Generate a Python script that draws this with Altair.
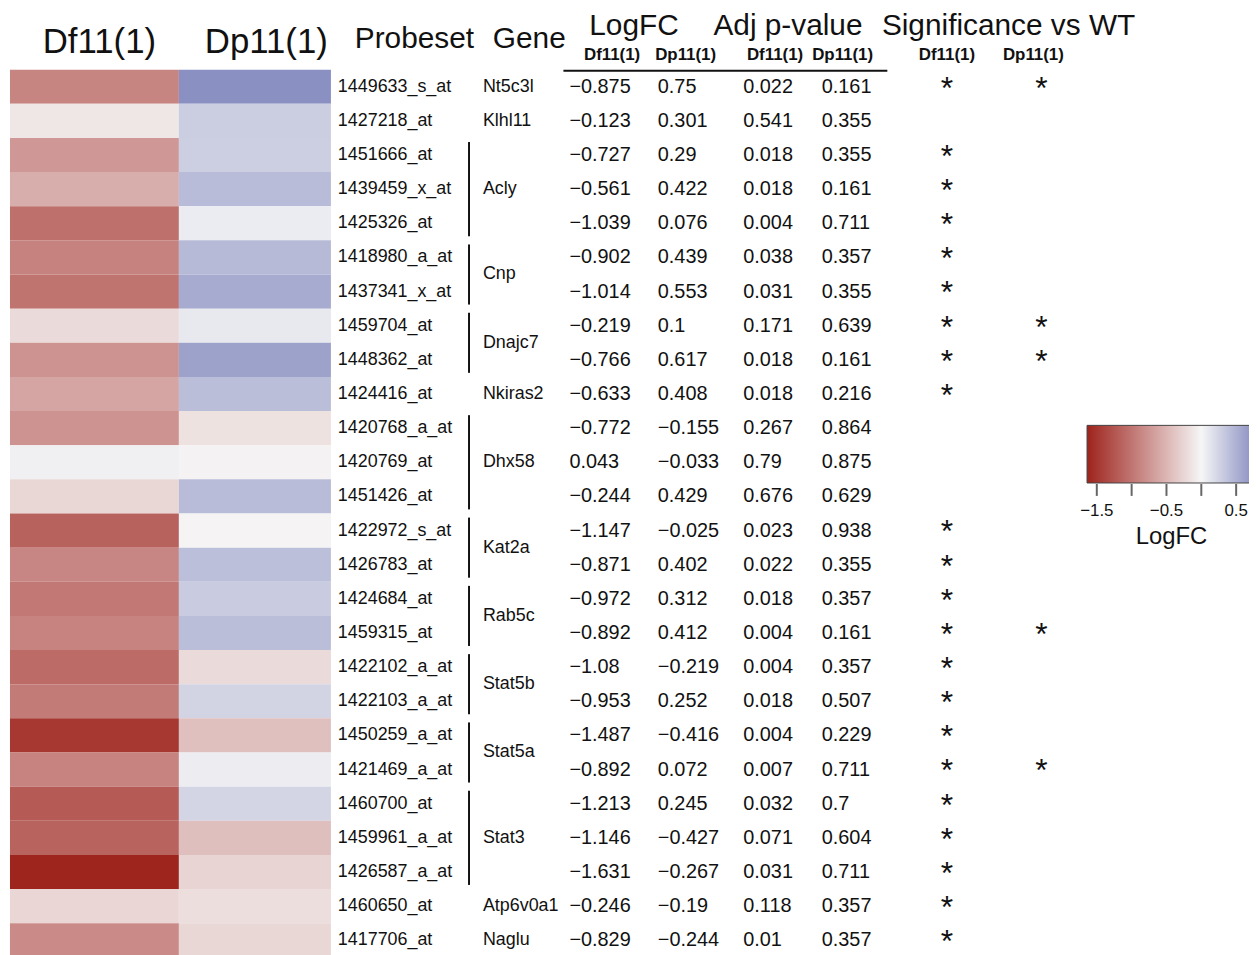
import altair as alt
import pandas as pd

probesets = ["1449633_s_at", "1427218_at", "1451666_at", "1439459_x_at", "1425326_at",
             "1418980_a_at", "1437341_x_at", "1459704_at", "1448362_at", "1424416_at",
             "1420768_a_at", "1420769_at", "1451426_at", "1422972_s_at", "1426783_at",
             "1424684_at", "1459315_at", "1422102_a_at", "1422103_a_at", "1450259_a_at",
             "1421469_a_at", "1460700_at", "1459961_a_at", "1426587_a_at", "1460650_at",
             "1417706_at"]
genes = ["Nt5c3l", "Klhl11", "Acly", "Acly", "Acly", "Cnp", "Cnp", "Dnajc7", "Dnajc7",
         "Nkiras2", "Dhx58", "Dhx58", "Dhx58", "Kat2a", "Kat2a", "Rab5c", "Rab5c",
         "Stat5b", "Stat5b", "Stat5a", "Stat5a", "Stat3", "Stat3", "Stat3", "Atp6v0a1", "Naglu"]
logfc_df11 = [-0.875, -0.123, -0.727, -0.561, -1.039, -0.902, -1.014, -0.219, -0.766, -0.633,
              -0.772, 0.043, -0.244, -1.147, -0.871, -0.972, -0.892, -1.08, -0.953, -1.487,
              -0.892, -1.213, -1.146, -1.631, -0.246, -0.829]
logfc_dp11 = [0.75, 0.301, 0.29, 0.422, 0.076, 0.439, 0.553, 0.1, 0.617, 0.408,
              -0.155, -0.033, 0.429, -0.025, 0.402, 0.312, 0.412, -0.219, 0.252, -0.416,
              0.072, 0.245, -0.427, -0.267, -0.19, -0.244]
adjp_df11 = [0.022, 0.541, 0.018, 0.018, 0.004, 0.038, 0.031, 0.171, 0.018, 0.018,
             0.267, 0.79, 0.676, 0.023, 0.022, 0.018, 0.004, 0.004, 0.018, 0.004,
             0.007, 0.032, 0.071, 0.031, 0.118, 0.01]
adjp_dp11 = [0.161, 0.355, 0.355, 0.161, 0.711, 0.357, 0.355, 0.639, 0.161, 0.216,
             0.864, 0.875, 0.629, 0.938, 0.355, 0.357, 0.161, 0.357, 0.507, 0.229,
             0.711, 0.7, 0.604, 0.711, 0.357, 0.357]
sig_df11 = [1, 0, 1, 1, 1, 1, 1, 1, 1, 1, 0, 0, 0, 1, 1, 1, 1, 1, 1, 1, 1, 1, 1, 1, 1, 1]
sig_dp11 = [1, 0, 0, 0, 0, 0, 0, 1, 1, 0, 0, 0, 0, 0, 0, 0, 1, 0, 0, 0, 1, 0, 0, 0, 0, 0]
conditions = ["Df11(1)", "Dp11(1)"]
legend_labels = [-1.5, -0.5, 0.5]
legend_ticks = [-1.5, -1.0, -0.5, 0.0, 0.5]
color_domain = [-1.64, 0, 0.77]


def fmt(v):
    return str(v).replace("-", "\u2212")


rows = pd.DataFrame({
    "idx": list(range(len(probesets))),
    "probeset": probesets,
    "gene": genes,
    "lf_df": [fmt(v) for v in logfc_df11],
    "lf_dp": [fmt(v) for v in logfc_dp11],
    "p_df": [fmt(v) for v in adjp_df11],
    "p_dp": [fmt(v) for v in adjp_dp11],
    "s_df": sig_df11,
    "s_dp": sig_dp11,
})

heat = pd.DataFrame({
    "idx": list(range(len(probesets))) * 2,
    "col": [0] * len(probesets) + [1] * len(probesets),
    "cond": [conditions[0]] * len(probesets) + [conditions[1]] * len(probesets),
    "logfc": logfc_df11 + logfc_dp11,
})

FONT = "Liberation Sans"
yscale = alt.Scale(domain=[-0.5, 25.5], range=[59, 952.4], nice=False, zero=False)
xscale = alt.Scale(domain=[0, 1, 2], range=[2, 172, 325], nice=False, zero=False)

LEG_X, LEG_LEN = 1086, 169

color_scale = alt.Scale(domain=color_domain,
                        range=["#9e231d", "#f6f6f6", "#878dc0"], interpolate="rgb")

heatmap = alt.Chart(heat).transform_calculate(
    y0="datum.idx - 0.5", y1="datum.idx + 0.5", x1="datum.col + 1"
).mark_rect().encode(
    x=alt.X("col:Q", scale=xscale, axis=None),
    x2="x1:Q",
    y=alt.Y("y0:Q", scale=yscale, axis=None),
    y2="y1:Q",
    color=alt.Color("logfc:Q", scale=color_scale,
                    legend=alt.Legend(orient="none", legendX=LEG_X, legendY=417,
                                      direction="horizontal", gradientLength=LEG_LEN,
                                      gradientThickness=58, title="LogFC",
                                      titleOrient="bottom", titleAnchor="middle",
                                      titleFontSize=24, titleFont=FONT,
                                      titleFontWeight="normal", titleColor="#111",
                                      titlePadding=6,
                                      values=legend_labels, format=".1f",
                                      labelFontSize=17,
                                      labelFont=FONT, labelColor="#111", labelOffset=20,
                                      labelExpr="replace(datum.label, '-', '\u2212')",
                                      gradientStrokeColor="#444", gradientStrokeWidth=1,
                                      padding=0)),
)

ticks = alt.Chart(pd.DataFrame({"v": legend_ticks})).mark_rule(
    color="#666", strokeWidth=2
).encode(
    x=alt.X("v:Q", scale=alt.Scale(domain=[color_domain[0], color_domain[-1]],
                                   range=[LEG_X, LEG_X + LEG_LEN], nice=False, zero=False),
            axis=None),
    y=alt.value(476), y2=alt.value(488),
)

base = alt.Chart(rows)


def col_text(field, xpos, size=20, align="left"):
    return base.mark_text(align=align, baseline="middle", font=FONT, fontSize=size,
                          color="#111").encode(
        x=alt.value(xpos), y=alt.Y("idx:Q", scale=yscale, axis=None), text=f"{field}:N")


probe_layer = col_text("probeset", 332, size=18)
lf_df_layer = col_text("lf_df", 565)
lf_dp_layer = col_text("lf_dp", 654)
p_df_layer = col_text("p_df", 740)
p_dp_layer = col_text("p_dp", 819)

gene_layer = base.transform_aggregate(
    ymid="mean(idx)", groupby=["gene"]
).mark_text(align="left", baseline="middle", font=FONT, fontSize=18, color="#111").encode(
    x=alt.value(478), y=alt.Y("ymid:Q", scale=yscale, axis=None), text="gene:N")

bracket = base.transform_aggregate(
    lo="min(idx)", hi="max(idx)", n="count()", groupby=["gene"]
).transform_filter("datum.n > 1").transform_calculate(
    b0="datum.lo - 0.38", b1="datum.hi + 0.38"
).mark_rule(color="#111", strokeWidth=2).encode(
    x=alt.value(464), y=alt.Y("b0:Q", scale=yscale, axis=None), y2="b1:Q")

star_df = base.transform_filter("datum.s_df == 1").mark_text(
    text="*", align="center", baseline="middle", font=FONT, fontSize=32, dy=2,
    color="#111").encode(x=alt.value(945), y=alt.Y("idx:Q", scale=yscale, axis=None))
star_dp = base.transform_filter("datum.s_dp == 1").mark_text(
    text="*", align="center", baseline="middle", font=FONT, fontSize=32, dy=2,
    color="#111").encode(x=alt.value(1040), y=alt.Y("idx:Q", scale=yscale, axis=None))

one = pd.DataFrame({"k": [0]})


def label(txt, xpos, ypos, size, align="center", weight="normal"):
    return alt.Chart(one).mark_text(text=txt, align=align, baseline="middle", font=FONT,
                                    fontSize=size, fontWeight=weight, color="#111").encode(
        x=alt.value(xpos), y=alt.value(ypos))


headers = [
    label("Df11(1)", 92, 31, 35),
    label("Dp11(1)", 260, 31, 35),
    label("Probeset", 349, 28, 30, align="left"),
    label("Gene", 488, 28, 30, align="left"),
    label("LogFC", 630, 15, 30),
    label("Adj p-value", 785, 15, 30),
    label("Significance vs WT", 1007, 15, 30),
]
for xp, lab in zip([608, 682, 772, 840, 945, 1032],
                   ["Df11(1)", "Dp11(1)", "Df11(1)", "Dp11(1)", "Df11(1)", "Dp11(1)"]):
    headers.append(label(lab, xp, 44, 17, weight="bold"))

underline = alt.Chart(one).mark_rule(color="#111", strokeWidth=2).encode(
    x=alt.value(559), x2=alt.value(885), y=alt.value(60))

chart = alt.layer(
    heatmap, ticks, bracket, probe_layer, gene_layer, lf_df_layer, lf_dp_layer, p_df_layer,
    p_dp_layer, star_df, star_dp, underline, *headers
).resolve_scale(x="independent").properties(
    width=1249, height=947,
    autosize=alt.AutoSizeParams(type="none"), padding=0,
).configure_view(stroke=None)

chart.save("out.html", embed_options={"renderer": "svg", "actions": False})
